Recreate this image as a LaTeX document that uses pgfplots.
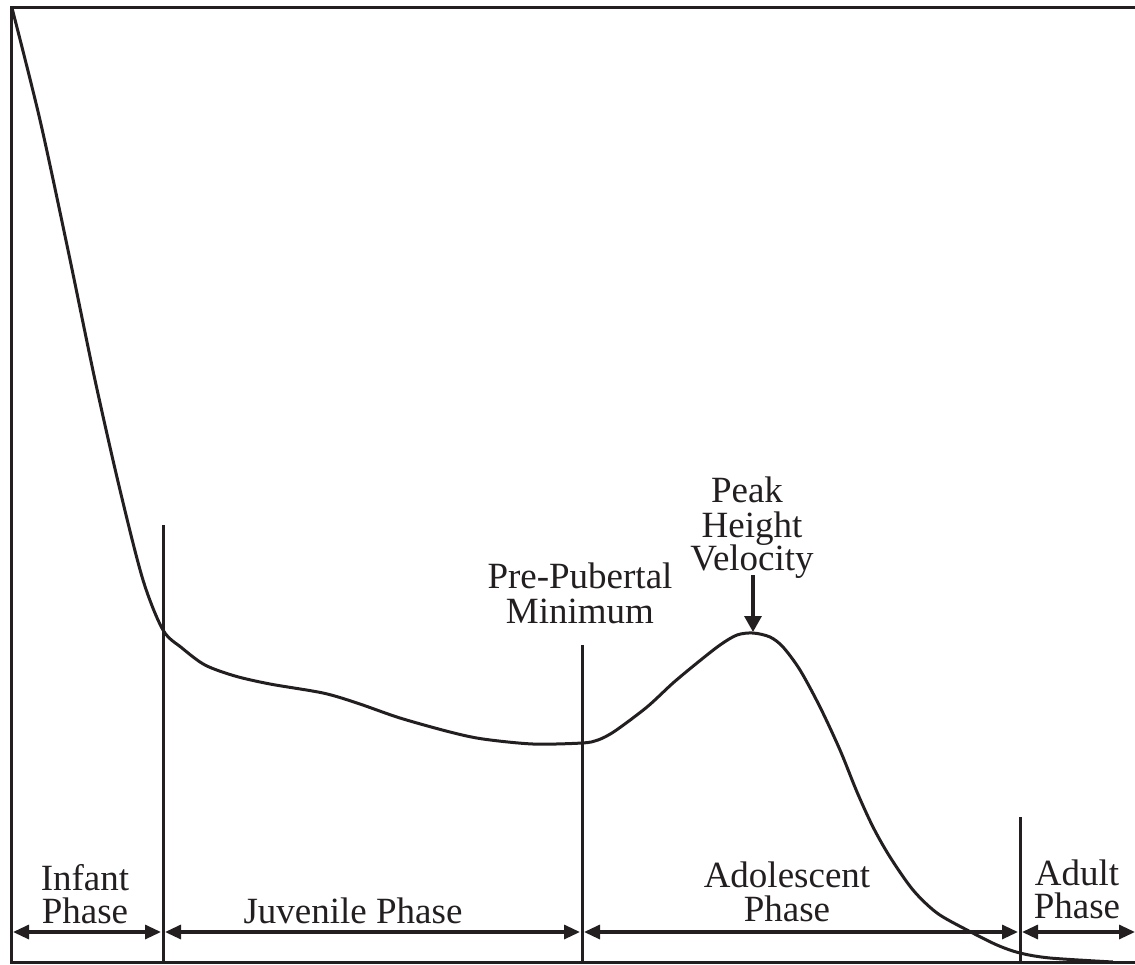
\documentclass[border=0pt]{standalone}
\usepackage{fontspec}
\setmainfont{Liberation Serif}
\usepackage{pgfplots}
\pgfplotsset{compat=1.18}
\usetikzlibrary{arrows.meta}
\definecolor{ink}{HTML}{231F20}
\begin{document}
\begin{tikzpicture}
\begin{axis}[name=ax, at={(0,0)}, anchor=south west,
  scale only axis, width=567.5pt, height=482pt,
  xmin=0, xmax=1135, ymin=0, ymax=964, y dir=reverse,
  axis line style={draw=none}, xtick=\empty, ytick=\empty,
  clip=false]
% frame
\draw[ink, line width=1.5pt, line join=miter] (axis cs:1145,7) -- (axis cs:11,7) -- (axis cs:11,962) -- (axis cs:1145,962);
% phase dividers
\draw[ink, line width=1.5pt] (axis cs:163,525) -- (axis cs:163,962);
\draw[ink, line width=1.5pt] (axis cs:582,645) -- (axis cs:582,962);
\draw[ink, line width=1.5pt] (axis cs:1020,817) -- (axis cs:1020,962);
% velocity curve
\addplot[ink, line width=1.5pt, smooth, tension=0.5] coordinates {
(12,8) (40,120) (68,250) (95,380) (120,490) (143,580) (163,630)
(182,648) (205,665) (235,676) (270,684) (323,693) (357,703)
(400,718) (450,732) (483,739) (533,744) (582,743) (598,740) (615,731)
(647,707) (673,683) (697,663) (720,645) (737,635) (753,633) (770,637)
(783,647) (800,670) (820,707) (840,750) (857,792) (873,827) (890,857)
(913,890) (937,913) (967,930) (997,945) (1020,953) (1050,958) (1113,962)
};
% phase arrows
\tikzset{pa/.style={ink, line width=1.6pt, {Triangle[length=8pt,width=7pt]}-{Triangle[length=8pt,width=7pt]}}}
\draw[pa] (axis cs:13,932) -- (axis cs:161,932);
\draw[pa] (axis cs:165,932) -- (axis cs:580,932);
\draw[pa] (axis cs:584,932) -- (axis cs:1018,932);
\draw[pa] (axis cs:1022,932) -- (axis cs:1135,932);
% peak arrow
\draw[ink, line width=1.6pt, -{Triangle[length=8pt,width=8.5pt]}] (axis cs:753,575) -- (axis cs:753,632);
% labels
\tikzset{lb/.style={anchor=base, inner sep=0pt, text=ink, font=\fontsize{18.5}{18.5}\selectfont}}
\node[lb] at (axis cs:85,890) {Infant};
\node[lb] at (axis cs:85,923) {Phase};
\node[lb] at (axis cs:353,923) {Juvenile Phase};
\node[lb] at (axis cs:787,887) {Adolescent};
\node[lb] at (axis cs:787,921) {Phase};
\node[lb] at (axis cs:1077,885) {Adult};
\node[lb] at (axis cs:1077,918) {Phase};
\node[lb] at (axis cs:580,588) {Pre-Pubertal};
\node[lb] at (axis cs:580,623) {Minimum};
\node[lb] at (axis cs:747,502) {Peak};
\node[lb] at (axis cs:752,537) {Height};
\node[lb] at (axis cs:752,570) {Velocity};
\end{axis}
\pgfresetboundingbox
\path (ax.south west) rectangle (ax.north east);
\end{tikzpicture}
\end{document}
